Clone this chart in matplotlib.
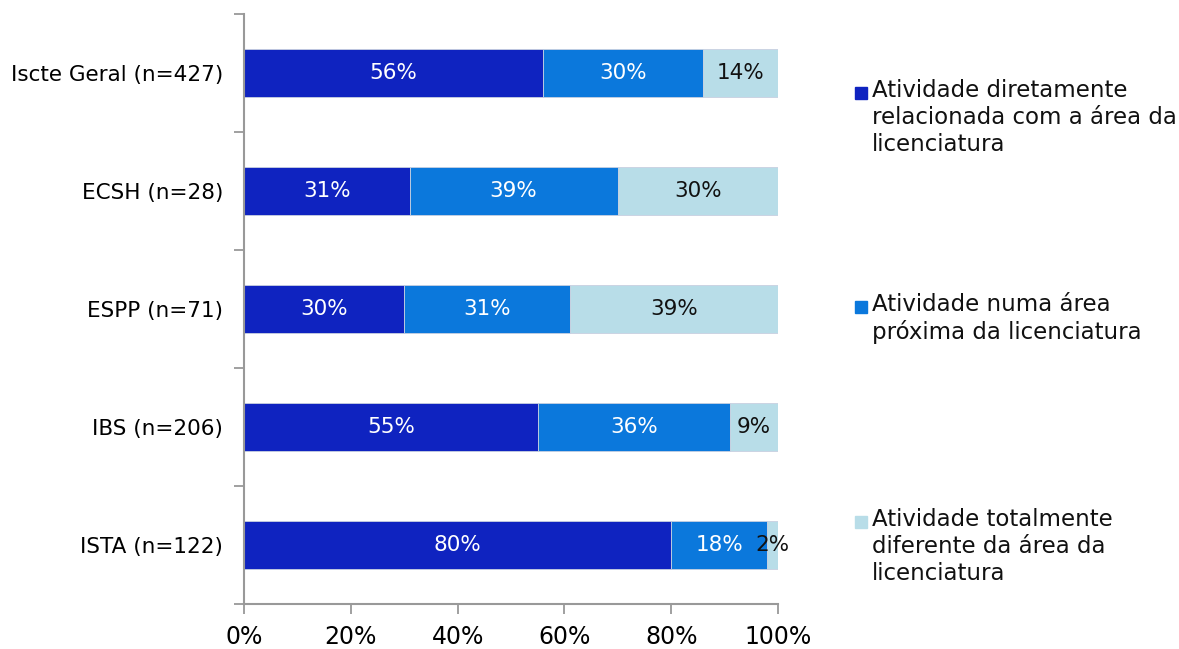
import matplotlib
matplotlib.use("Agg")
import matplotlib.pyplot as plt
from matplotlib.patches import Rectangle

plt.rcParams['font.family'] = ['DejaVu Sans']

categories = ["Iscte Geral (n=427)", "ECSH (n=28)", "ESPP (n=71)", "IBS (n=206)", "ISTA (n=122)"]
direta = [56, 31, 30, 55, 80]
proxima = [30, 39, 31, 36, 18]
diferente = [14, 30, 39, 9, 2]
series_names = ["Atividade diretamente\nrelacionada com a área da\nlicenciatura",
                "Atividade numa área\npróxima da licenciatura",
                "Atividade totalmente\ndiferente da área da\nlicenciatura"]
colors = ["#0F23C0", "#0B78DC", "#B8DDE8"]
label_colors = ["white", "white", "#111111"]
xticks = [0, 20, 40, 60, 80, 100]

fig = plt.figure(figsize=(11.79, 6.49), dpi=100)
ax = fig.add_axes([244/1179, 1 - 604/649, (778-244)/1179, (604-14)/649])

ypos = list(range(len(categories)))
series = [direta, proxima, diferente]
left = [0]*len(categories)
for vals, col, lc in zip(series, colors, label_colors):
    ax.barh(ypos, vals, left=left, height=0.41, color=col,
            edgecolor="#c8d0e0", linewidth=0.6)
    for y, v, l in zip(ypos, vals, left):
        ax.text(l + v/2, y, f"{v}%", ha="center", va="center",
                color=lc, fontsize=15.5)
    left = [a + b for a, b in zip(left, vals)]

ax.set_ylim(len(categories) - 0.5, -0.5)
ax.set_xlim(0, 100)
ax.set_yticks(ypos)
ax.set_yticklabels(categories, fontsize=15.5)
ax.set_yticks([i - 0.5 for i in range(len(categories) + 1)], minor=True)
ax.tick_params(axis='y', which='major', length=0, pad=15)
ax.tick_params(axis='y', which='minor', length=7, width=1.3, color="#999999", direction='out')
ax.set_xticks(xticks)
ax.set_xticklabels([f"{t}%" for t in xticks], fontsize=17)
ax.tick_params(axis='x', length=7, width=1.3, color="#999999", pad=8)
for s in ['top', 'right']:
    ax.spines[s].set_visible(False)
for s in ['left', 'bottom']:
    ax.spines[s].set_color("#999999")
    ax.spines[s].set_linewidth(1.5)

# legend drawn manually
leg_y = [93, 307, 522]
for name, col, yy in zip(series_names, colors, leg_y):
    fig.patches.append(Rectangle((855/1179, 1 - (yy + 6)/649), 12/1179, 12/649,
                                 transform=fig.transFigure, color=col))
    fig.text(872/1179, 1 - (yy - 14)/649, name, fontsize=16.5, va="top", ha="left",
             linespacing=1.22, color="#111111")

fig.savefig("out.png", dpi=100)
